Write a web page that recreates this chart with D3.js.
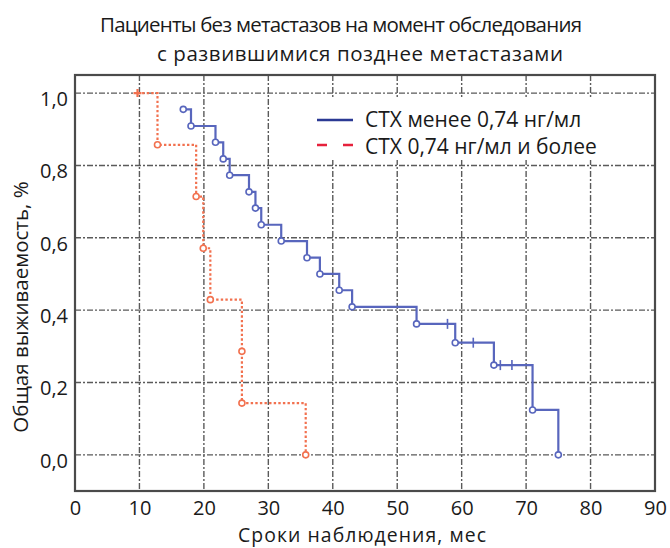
<!DOCTYPE html>
<html>
<head>
<meta charset="utf-8">
<script src="https://cdn.jsdelivr.net/npm/d3@7"></script>
<style>
  html, body { margin: 0; padding: 0; background: #fff; }
  svg { display: block; }
  text { font-family: "Open Sans", "Noto Sans", sans-serif; fill: #1a1a1a; }
</style>
</head>
<body>
<svg id="chart" width="670" height="548"></svg>
<script>
// ---- data ----
const titleLines = ["Пациенты без метастазов на момент обследования", "с развившимися позднее метастазами"];
const xLabel = "Сроки наблюдения, мес";
const yLabel = "Общая выживаемость, %";
const xTicks = [0, 10, 20, 30, 40, 50, 60, 70, 80, 90];
const yTicks = [0, 0.2, 0.4, 0.6, 0.8, 1.0];
const seriesNames = ["CTX менее 0,74 нг/мл", "CTX 0,74 нг/мл и более"];

// group 1 (blue): event times and survival after each event
const blueTimes = [16.8, 18.0, 21.8, 23.0, 24.0, 27.0, 28.0, 28.9, 32.0, 36.0, 38.0, 41.0, 43.0, 53.0, 59.0, 65.0, 71.0, 75.0];
const blueSurv  = [0.955, 0.909, 0.864, 0.818, 0.773, 0.727, 0.682, 0.636, 0.591, 0.545, 0.500, 0.455, 0.409, 0.362, 0.310, 0.248, 0.124, 0.0];
const blueCensTimes = [57.8, 61.8, 66.0, 67.8];
const blueCensSurv  = [0.362, 0.310, 0.248, 0.248];

// group 2 (red): first point is a censored start, then events
const redTimes = [9.7, 12.8, 18.8, 19.9, 21.0, 25.9, 25.9, 35.8];
const redSurv  = [1.0, 0.857, 0.714, 0.571, 0.429, 0.286, 0.143, 0.0];

// ---- layout ----
const svg = d3.select("#chart");
const x = d3.scaleLinear().domain([0, 90]).range([75, 655]);
const y = d3.scaleLinear().domain([-0.1, 1.05]).range([491, 75]);
const fmtY = v => d3.format(".1f")(v).replace(".", ",");
const FONT = '"Open Sans", "Noto Sans", sans-serif';

// grid
const grid = svg.append("g");
grid.selectAll("line.gx").data(xTicks.filter(t => t > 0 && t < 90)).join("line")
  .attr("x1", d => x(d)).attr("x2", d => x(d))
  .attr("y1", y.range()[1]).attr("y2", y.range()[0])
  .attr("stroke", "#5a5a5a").attr("stroke-width", 1.4).attr("stroke-dasharray", "6,2,2,2");
grid.selectAll("line.gy").data(yTicks).join("line")
  .attr("x1", x.range()[0]).attr("x2", x.range()[1])
  .attr("y1", d => y(d)).attr("y2", d => y(d))
  .attr("stroke", "#5a5a5a").attr("stroke-width", 1.4).attr("stroke-dasharray", "6,2,2,2");

// legend background (covers grid)
svg.append("rect").attr("x", 300).attr("y", 99).attr("width", 353).attr("height", 61).attr("fill", "#fff");

// frame
svg.append("rect")
  .attr("x", x.range()[0]).attr("y", y.range()[1])
  .attr("width", x.range()[1] - x.range()[0]).attr("height", y.range()[0] - y.range()[1])
  .attr("fill", "none").attr("stroke", "#4a4a4a").attr("stroke-width", 2.2);

// axes (labels only)
const xAxis = d3.axisBottom(x).tickValues(xTicks).tickSize(0).tickPadding(10).tickFormat(d3.format("d"));
const gx = svg.append("g").attr("transform", `translate(0,${y.range()[0]})`).call(xAxis);
gx.select(".domain").remove();
gx.selectAll("text").style("font-size", "20px").attr("fill", "#1a1a1a").style("font-family", FONT);

const yAxis = d3.axisLeft(y).tickValues(yTicks).tickSize(0).tickPadding(7).tickFormat(fmtY);
const gy = svg.append("g").attr("transform", `translate(${x.range()[0]},0)`).call(yAxis);
gy.select(".domain").remove();
gy.selectAll("text").style("font-size", "20px").attr("fill", "#1a1a1a").attr("dy", "0.62em")
  .style("font-family", FONT);

// step path builder
function stepPath(ts, ss) {
  let p = `M${x(ts[0])},${y(ss[0])}`;
  for (let i = 1; i < ts.length; i++) {
    p += `H${x(ts[i])}V${y(ss[i])}`;
  }
  return p;
}

// red curve
svg.append("path").attr("d", stepPath(redTimes, redSurv))
  .attr("fill", "none").attr("stroke", "#f2714f").attr("stroke-width", 2.2)
  .attr("stroke-dasharray", "2.4,2.2");
svg.selectAll("circle.red").data(redTimes.slice(1).map((t, i) => [t, redSurv[i + 1]])).join("circle")
  .attr("cx", d => x(d[0])).attr("cy", d => y(d[1])).attr("r", 3)
  .attr("fill", "#fff").attr("stroke", "#f2714f").attr("stroke-width", 1.6);
// censored start marker (+)
svg.append("path")
  .attr("d", `M${x(redTimes[0]) - 4},${y(redSurv[0])}h8M${x(redTimes[0])},${y(redSurv[0]) - 4}v8`)
  .attr("stroke", "#f2714f").attr("stroke-width", 2.2);

// blue curve
svg.append("path").attr("d", stepPath(blueTimes, blueSurv))
  .attr("fill", "none").attr("stroke", "#5866bd").attr("stroke-width", 2.2);
svg.selectAll("circle.blue").data(blueTimes.map((t, i) => [t, blueSurv[i]])).join("circle")
  .attr("cx", d => x(d[0])).attr("cy", d => y(d[1])).attr("r", 3)
  .attr("fill", "#fff").attr("stroke", "#5866bd").attr("stroke-width", 1.6);
svg.selectAll("line.cens").data(blueCensTimes.map((t, i) => [t, blueCensSurv[i]])).join("line")
  .attr("x1", d => x(d[0])).attr("x2", d => x(d[0]))
  .attr("y1", d => y(d[1]) - 5).attr("y2", d => y(d[1]) + 5)
  .attr("stroke", "#5866bd").attr("stroke-width", 1.6);

// legend
const lg = svg.append("g");
lg.append("line").attr("x1", 317).attr("x2", 353).attr("y1", 120).attr("y2", 120)
  .attr("stroke", "#2b3a94").attr("stroke-width", 2.5);
lg.append("line").attr("x1", 317).attr("x2", 353).attr("y1", 145).attr("y2", 145)
  .attr("stroke", "#e6213c").attr("stroke-width", 2.5).attr("stroke-dasharray", "10,16");
lg.selectAll("text").data(seriesNames).join("text")
  .attr("x", 365).attr("y", (d, i) => 127 + i * 27)
  .style("font-size", "21px").text(d => d);

// title
svg.append("text").attr("x", 100).attr("y", 32)
  .attr("textLength", 482).attr("lengthAdjust", "spacing")
  .style("font-size", "20.5px").text(titleLines[0]);
svg.append("text").attr("x", 157).attr("y", 61)
  .attr("textLength", 406).attr("lengthAdjust", "spacing")
  .style("font-size", "20.5px").text(titleLines[1]);

// axis titles
svg.append("text").attr("x", 362).attr("y", 542).attr("text-anchor", "middle")
  .attr("textLength", 248).attr("lengthAdjust", "spacing")
  .style("font-size", "19.4px").text(xLabel);
svg.append("text").attr("transform", "translate(28,307) rotate(-90)").attr("text-anchor", "middle")
  .style("font-size", "20.5px").text(yLabel);
</script>
</body>
</html>
